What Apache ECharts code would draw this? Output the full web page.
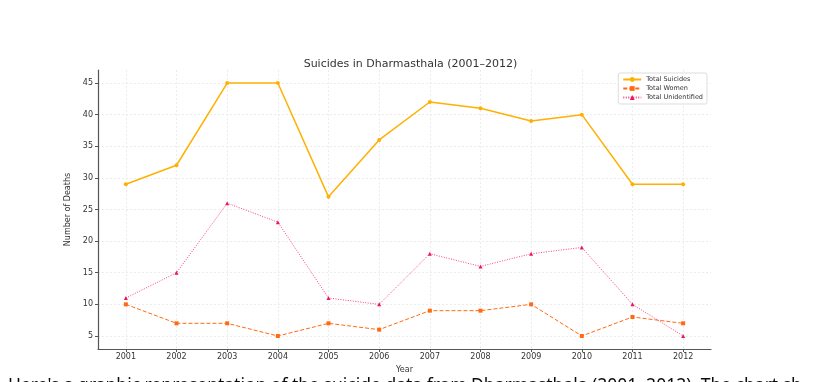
<!DOCTYPE html>
<html><head><meta charset="utf-8">
<script src="https://cdn.jsdelivr.net/npm/echarts@6/dist/echarts.min.js"></script>
<style>html,body{margin:0;padding:0;background:#fff}#c{width:821px;height:382px}</style>
</head><body><div id="c"></div>
<script>
const years = [2001,2002,2003,2004,2005,2006,2007,2008,2009,2010,2011,2012];
const totalSuicides = [29,32,45,45,27,36,42,41,39,40,29,29];
const totalWomen = [10,7,7,5,7,6,9,9,10,5,8,7];
const totalUnidentified = [11,15,26,23,11,10,18,16,18,19,10,5];
const yTicks = [5,10,15,20,25,30,35,40,45];
const titleText = 'Suicides in Dharmasthala (2001–2012)';
const captionText = "Here's a graphic representation of the suicide data from Dharmasthala (2001–2012). The chart sh";

const pair = arr => years.map((y,i)=>[y,arr[i]]);
const font = 'DejaVu Sans';
const chart = echarts.init(document.getElementById('c'));
chart.setOption({
  animation:false,
  backgroundColor:'#fff',
  title:{text:titleText,left:'center',top:54,textStyle:{fontFamily:font,fontSize:11,fontWeight:'normal',color:'#333'}},
  grid:{left:98,right:110,top:70,bottom:33,containLabel:false},
  legend:{right:114,top:73,orient:'vertical',itemWidth:18,itemHeight:6,itemGap:2,
    backgroundColor:'#fff',borderColor:'#ddd',borderWidth:1,borderRadius:2,padding:[3,4,3,4],
    textStyle:{fontFamily:font,fontSize:6.5,color:'#333'}},
  xAxis:{type:'value',min:2000.45,max:2012.55,
    axisLine:{show:true,lineStyle:{color:'#555',width:1.2}},
    axisTick:{show:true,customValues:years,length:3,lineStyle:{color:'#555'}},
    axisLabel:{customValues:years,fontFamily:font,fontSize:8,color:'#333',margin:4,formatter:v=>String(v)},
    splitLine:{show:true,lineStyle:{color:'#e8e8e8',type:[2,2],width:0.8}},
    name:'Year',nameLocation:'middle',nameGap:16,nameTextStyle:{fontFamily:font,fontSize:8,color:'#333'}},
  yAxis:{type:'value',min:2.94,max:47.06,
    axisLine:{show:true,lineStyle:{color:'#555',width:1.2}},
    axisTick:{show:true,customValues:yTicks,length:3,lineStyle:{color:'#555'}},
    axisLabel:{customValues:yTicks,fontFamily:font,fontSize:8,color:'#333',margin:5},
    splitLine:{show:true,lineStyle:{color:'#e8e8e8',type:[2,2],width:0.8}},
    name:'Number of Deaths',nameLocation:'middle',nameGap:18,nameTextStyle:{fontFamily:font,fontSize:8,color:'#333'}},
  series:[
    {name:'Total Suicides',type:'line',data:pair(totalSuicides),symbol:'circle',symbolSize:4,
      lineStyle:{color:'#FFB000',width:1.5},itemStyle:{color:'#FFB000'}},
    {name:'Total Women',type:'line',data:pair(totalWomen),symbol:'rect',symbolSize:4,
      lineStyle:{color:'#FF6A13',width:1,type:[4,2]},itemStyle:{color:'#FF6A13'}},
    {name:'Total Unidentified',type:'line',data:pair(totalUnidentified),symbol:'triangle',symbolSize:4,
      lineStyle:{color:'#FF3D7F',width:1,type:[1,1.5]},itemStyle:{color:'#E8175D'}}
  ],
  graphic:[{type:'text',left:8,top:377,style:{text:captionText,fontFamily:'Noto Sans',fontSize:17.5,fill:'#0d0d0d'}}]
});
</script></body></html>
